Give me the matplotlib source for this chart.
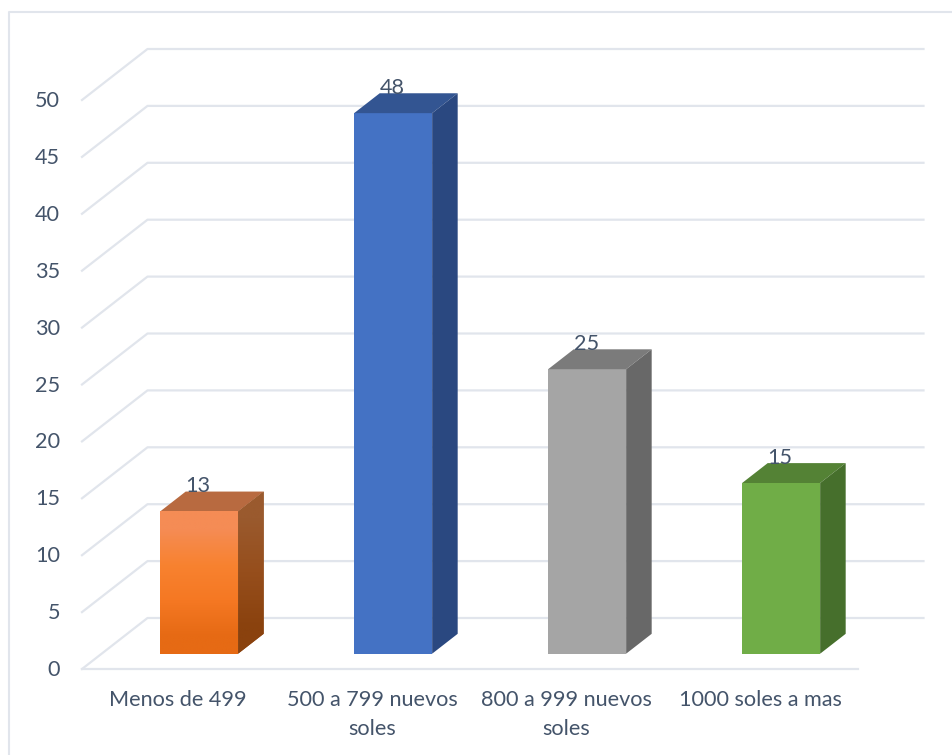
import numpy as np
import matplotlib.pyplot as plt
from matplotlib.patches import Polygon

plt.rcParams['font.family'] = ['Lato', 'DejaVu Sans']

categories = ['Menos de 499', '500 a 799 nuevos\nsoles', '800 a 999 nuevos\nsoles', '1000 soles a mas']
values = [12.5, 47.5, 25, 15]
value_labels = ['13', '48', '25', '15']
y_ticks = [0, 5, 10, 15, 20, 25, 30, 35, 40, 45, 50]

front_colors = ['#F27A25', '#4472C4', '#A5A5A5', '#70AD47']
top_colors = ['#B86A40', '#335592', '#7B7B7B', '#548235']
side_colors = ['#93501F', '#2A4880', '#686868', '#466F2C']
grid_color = '#E1E5EC'
text_color = '#44546A'

# pixel layout of the fake 3d box
x0, y0 = 82, 669
cat_w = 194
unit_h = 11.38
depth_dx, depth_dy = 65.5, -51
bar_w = 0.402
bar_off = 58.5 / 194
d_front, d_back = 0.30, 0.69
font_size = 15.6


def project(cat, val, depth=0.0):
    return (x0 + cat * cat_w + depth * depth_dx, y0 - val * unit_h + depth * depth_dy)


fig = plt.figure(figsize=(9.52, 7.55), dpi=100)
ax = fig.add_axes([0, 0, 1, 1])
ax.set_xlim(0, 952)
ax.set_ylim(755, 0)
ax.axis('off')

# chart frame
ax.plot([9, 9, 952], [755, 12, 12], color=grid_color, lw=1.5, zorder=1)

# walls
n = len(categories)
for t in y_ticks:
    p0, p1, p2 = project(0, t), project(0, t, 1), project(n, t, 1)
    ax.plot([p0[0], p1[0], p2[0]], [p0[1], p1[1], p2[1]], color=grid_color, lw=1.6, zorder=1)
    ax.text(60, p0[1] + 1, str(t), ha='right', va='center', fontsize=font_size, color=text_color)
f0, f1 = project(0, 0), project(n, 0)
ax.plot([f0[0], f1[0]], [f0[1], f1[1]], color=grid_color, lw=1.6, zorder=1)

# bars
for i, v in enumerate(values):
    c = i + bar_off
    a = project(c, 0, d_front)
    b = project(c + bar_w, 0, d_front)
    e = project(c + bar_w, v, d_front)
    f = project(c, v, d_front)
    shift = (d_back - d_front)
    g = (e[0] + shift * depth_dx, e[1] + shift * depth_dy)
    h = (f[0] + shift * depth_dx, f[1] + shift * depth_dy)
    k = (b[0] + shift * depth_dx, b[1] + shift * depth_dy)
    front = Polygon([a, b, e, f], closed=True, fc=front_colors[i], ec='none', zorder=3)
    ax.add_patch(front)
    ax.add_patch(Polygon([f, e, g, h], closed=True, fc=top_colors[i], ec='none', zorder=3))
    side = Polygon([b, k, g, e], closed=True, fc=side_colors[i], ec='none', zorder=3)
    ax.add_patch(side)
    if i == 0:
        # the first bar has a gradient
        cols_front = np.array([[245, 140, 85], [248, 130, 48], [245, 120, 35], [230, 106, 20]]) / 255
        im = ax.imshow(cols_front[:, None, :], extent=(f[0], e[0], a[1], f[1]), aspect='auto',
                       interpolation='bilinear', zorder=3.1)
        im.set_clip_path(front)
        cols_side = np.array([[154, 90, 46], [150, 78, 28], [138, 66, 14]]) / 255
        im2 = ax.imshow(cols_side[:, None, :], extent=(b[0], k[0], a[1], g[1]), aspect='auto',
                        interpolation='bilinear', zorder=3.1)
        im2.set_clip_path(side)
    ax.text((a[0] + b[0]) / 2 - 1, f[1] - 25, value_labels[i], ha='center', va='center', fontsize=font_size,
            color=text_color, zorder=5)

ax.set_xlim(0, 952)
ax.set_ylim(755, 0)

# category labels
for i, name in enumerate(categories):
    px = project(i + 0.5, 0)[0]
    ax.text(px - 1, 690, name, ha='center', va='top', fontsize=font_size, color=text_color, linespacing=1.55)

fig.savefig('out.png', dpi=100)
